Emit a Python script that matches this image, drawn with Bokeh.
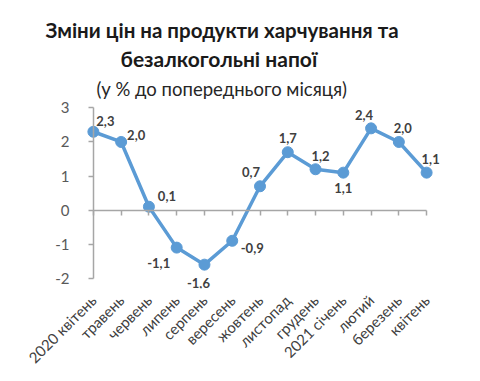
import math
from bokeh.plotting import figure
from bokeh.models import Range1d, FixedTicker, LinearAxis, Title, ColumnDataSource
from bokeh.core.properties import value
from bokeh.embed import file_html
from bokeh.resources import INLINE

months = ["2020 квітень", "травень", "червень", "липень", "серпень", "вересень",
          "жовтень", "листопад", "грудень", "2021 січень", "лютий", "березень", "квітень"]
values = [2.3, 2.0, 0.1, -1.1, -1.6, -0.9, 0.7, 1.7, 1.2, 1.1, 2.4, 2.0, 1.1]
value_labels = ["2,3", "2,0", "0,1", "-1,1", "-1,6", "-0,9", "0,7", "1,7", "1,2", "1,1", "2,4", "2,0", "1,1"]
y_ticks = [-2, -1, 0, 1, 2, 3]

# label placement (pixels)
label_dx = [12, 15, 18, -18, -6, 20, -9, 0, 5, 0, -7, 4, 4]
label_dy = [-11, -7, -11, 15, 18, 7, -14, -14, -13, 15, -13, -14, -14]

FONT = "Lato"
BLUE = "#5B9BD5"
AXIS_GREY = "#A6A6A6"

x = list(range(len(months)))
src = ColumnDataSource(dict(x=x, y=values, lab=value_labels, dx=label_dx, dy=label_dy))

p = figure(frame_width=361, frame_height=184, output_backend="svg", toolbar_location=None,
           x_range=Range1d(-0.5, len(months) - 0.5), y_range=Range1d(-2.3, 3.1),
           min_border_left=79, min_border_right=32, min_border_top=104, min_border_bottom=80)
p.outline_line_color = None
p.grid.grid_line_color = None
p.background_fill_color = "white"
p.border_fill_color = "white"

# bottom axis: category labels only
xa = p.xaxis[0]
xa.ticker = FixedTicker(ticks=x)
xa.major_label_overrides = {i: m for i, m in enumerate(months)}
xa.major_label_orientation = math.pi / 4
xa.axis_line_color = None
xa.major_tick_line_color = None
xa.minor_tick_line_color = None
xa.major_label_text_font = FONT
xa.major_label_text_font_size = "15px"
xa.major_label_text_color = "#404040"
xa.major_label_standoff = 3

# zero-line axis with tick marks
za = LinearAxis(fixed_location=0, bounds=(0, len(months) - 1), ticker=FixedTicker(ticks=x))
za.axis_line_color = AXIS_GREY
za.axis_line_width = 1.5
za.major_tick_line_color = AXIS_GREY
za.major_tick_line_width = 1.5
za.major_tick_out = 5
za.major_tick_in = 0
za.minor_tick_line_color = None
za.major_label_text_font_size = "0px"
za.major_label_text_color = None
za.major_label_standoff = 0
p.add_layout(za, "below")

# y axis labels (at frame edge)
ya = p.yaxis[0]
ya.ticker = FixedTicker(ticks=y_ticks)
ya.major_label_overrides = {t: str(t) for t in y_ticks}
ya.axis_line_color = None
ya.major_tick_line_color = None
ya.minor_tick_line_color = None
ya.major_label_text_font = FONT
ya.major_label_text_font_size = "15px"
ya.major_label_text_color = "#595959"
ya.major_label_standoff = 4

# y axis line with ticks at x = 0 (ticks pointing left)
yl = LinearAxis(fixed_location=0, bounds=(-2, 3), ticker=FixedTicker(ticks=y_ticks))
yl.axis_line_color = AXIS_GREY
yl.axis_line_width = 1.5
yl.major_tick_line_color = AXIS_GREY
yl.major_tick_line_width = 1.5
yl.major_tick_out = 0
yl.major_tick_in = 5
yl.minor_tick_line_color = None
yl.major_label_text_font_size = "0px"
yl.major_label_text_color = None
yl.major_label_standoff = 0
p.add_layout(yl, "right")

p.line("x", "y", source=src, line_color=BLUE, line_width=3.5)
p.scatter("x", "y", source=src, size=11, fill_color=BLUE, line_color=BLUE)
p.text("x", "y", text="lab", source=src, x_offset="dx", y_offset="dy",
       text_align="center", text_baseline="middle", text_font_style="bold",
       text_font_size="13px", text_color="#404040", text_font=value(FONT))

p.add_layout(Title(text="(у % до попереднього місяця)", align="left", offset=17, standoff=9,
                   text_font=FONT, text_font_size="18.5px", text_font_style="normal",
                   text_color="#262626"), "above")
p.add_layout(Title(text="безалкогольні напої", align="left", offset=41, standoff=2,
                   text_font=FONT, text_font_size="21px", text_font_style="bold",
                   text_color="#1a1a1a"), "above")
p.add_layout(Title(text="Зміни цін на продукти харчування та", align="left", offset=-34, standoff=2,
                   text_font=FONT, text_font_size="20.5px", text_font_style="bold",
                   text_color="#1a1a1a"), "above")

open("out.html", "w").write(file_html(p, INLINE))
